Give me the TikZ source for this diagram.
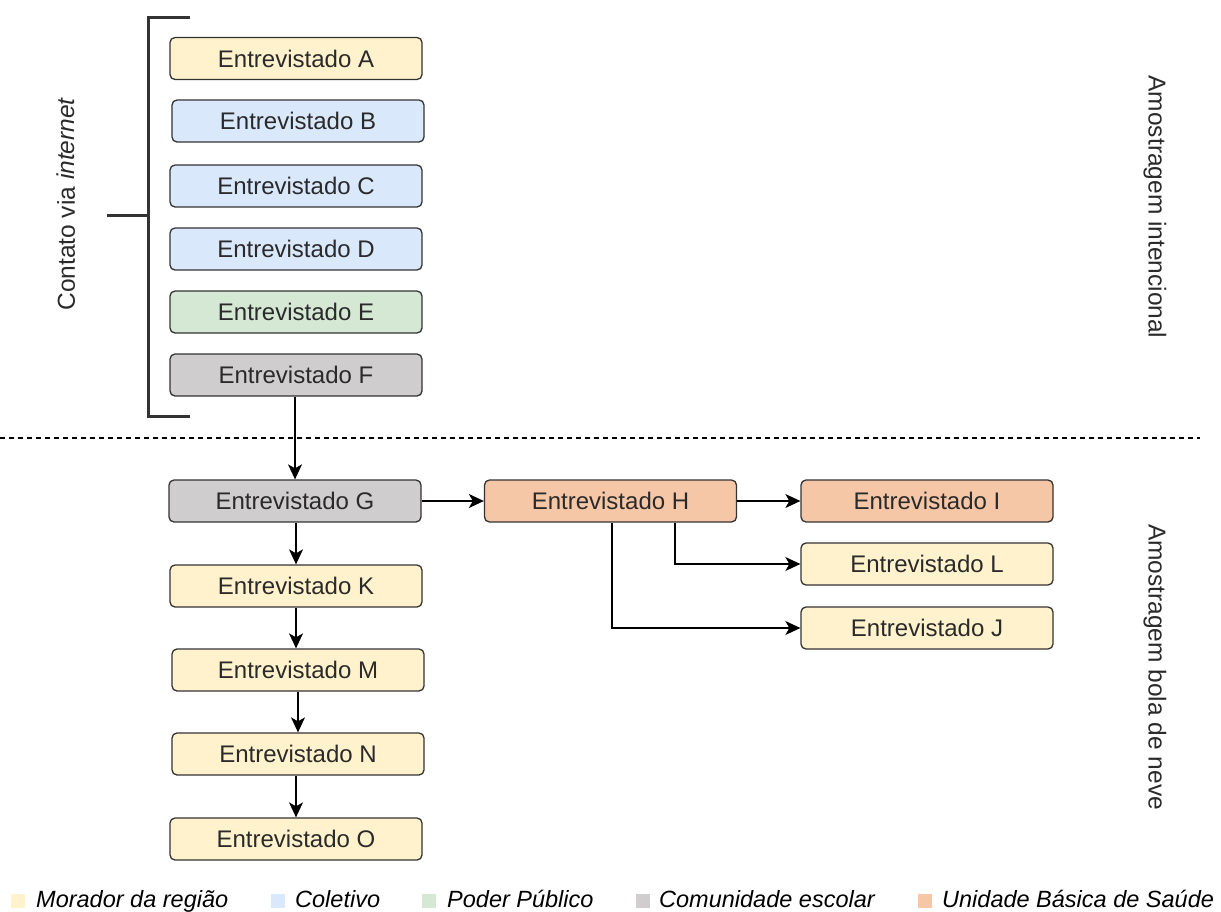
\documentclass[tikz,border=0pt]{standalone}
\usepackage{fontspec}
\setmainfont{Liberation Sans}
\usetikzlibrary{arrows.meta}
\definecolor{cyel}{HTML}{FFF2CC}
\definecolor{cblu}{HTML}{DAE8FC}
\definecolor{cgrn}{HTML}{D5E8D4}
\definecolor{cgry}{HTML}{CFCDCE}
\definecolor{corg}{HTML}{F6C7A6}
\definecolor{cline}{HTML}{333333}
\definecolor{ctext}{HTML}{2A2A2A}
\tikzset{
  ent/.style={draw=cline, line width=1.3pt, rounded corners=5pt, minimum width=252pt, minimum height=42pt, inner sep=0pt, text=ctext, font=\fontsize{24}{28}\selectfont},
  arr/.style={draw=black, line width=1.3pt, -{Stealth[length=15pt,width=14pt,inset=4pt]}},
  legsq/.style={minimum size=14pt, inner sep=0pt},
  legtx/.style={anchor=base west, inner sep=0pt, font=\fontsize{23.5}{28}\selectfont\itshape, text=black},
  side/.style={inner sep=0pt, font=\fontsize{24.5}{28}\selectfont, text=ctext}
}
\begin{document}
\begin{tikzpicture}[x=1pt,y=-1pt]
\useasboundingbox (0,0) rectangle (1221,911);
% left column
\node[ent, fill=cyel] (A) at (296,58.5) {Entrevistado A};
\node[ent, fill=cblu] (B) at (298,121) {Entrevistado B};
\node[ent, fill=cblu] (C) at (296,186) {Entrevistado C};
\node[ent, fill=cblu] (D) at (296,249) {Entrevistado D};
\node[ent, fill=cgrn] (E) at (296,312) {Entrevistado E};
\node[ent, fill=cgry] (F) at (296,375) {Entrevistado F};
\node[ent, fill=cgry] (G) at (295,501) {Entrevistado G};
\node[ent, fill=cyel] (K) at (296,586) {Entrevistado K};
\node[ent, fill=cyel] (M) at (298,670) {Entrevistado M};
\node[ent, fill=cyel] (N) at (298,754) {Entrevistado N};
\node[ent, fill=cyel] (O) at (296,839) {Entrevistado O};
% right
\node[ent, fill=corg] (H) at (610.5,501) {Entrevistado H};
\node[ent, fill=corg] (I) at (927,501) {Entrevistado I};
\node[ent, fill=cyel] (L) at (927,564) {Entrevistado L};
\node[ent, fill=cyel] (J) at (927,628) {Entrevistado J};
% bracket
\coordinate (bt) at (190,17);
\coordinate (bb) at (190,416);
\coordinate (bm) at (148,215);
\coordinate (bl) at (107,215);
\draw[cline, line width=3pt] (bt) -- (148,17) -- (148,416) -- (bb);
\draw[cline, line width=3pt] (bl) -- (bm);
\node[side, rotate=90] (cv) at (66,204) {Contato via \textit{internet}};
% dashed separator
\coordinate (d1) at (0,438);
\coordinate (d2) at (1200,438);
\draw[black, line width=1.3pt, dash pattern=on 5pt off 4pt] (d1) -- (d2);
% side labels
\node[side, rotate=-90] (ai) at (1155,207) {Amostragem intencional};
\node[side, rotate=-90] (ab) at (1155,667) {Amostragem bola de neve};
% arrows
\draw[arr] (F.south -| G.north) -- (G.north);
\draw[arr] (G.south -| K.north) -- (K.north);
\draw[arr] (K.south) -- (K.south |- M.north);
\draw[arr] (M.south) -- (N.north);
\draw[arr] (N.south -| O.north) -- (O.north);
\draw[arr] (G.east) -- (H.west);
\draw[arr] (H.east) -- (I.west);
\draw[arr] (H.south -| 675,0) |- (L.west);
\draw[arr] (H.south -| 612,0) |- (J.west);
% legend
\node[legsq, fill=cyel] (s1) at (17.5,901) {};
\node[legtx] (t1) at (36,907) {Morador da região};
\node[legsq, fill=cblu] (s2) at (278,901) {};
\node[legtx] (t2) at (295,907) {Coletivo};
\node[legsq, fill=cgrn] (s3) at (429,901) {};
\node[legtx] (t3) at (447,907) {Poder Público};
\node[legsq, fill=cgry] (s4) at (642.5,901) {};
\node[legtx] (t4) at (659,907) {Comunidade escolar};
\node[legsq, fill=corg] (s5) at (925,901) {};
\node[legtx] (t5) at (942,907) {Unidade Básica de Saúde};
\end{tikzpicture}
\end{document}
